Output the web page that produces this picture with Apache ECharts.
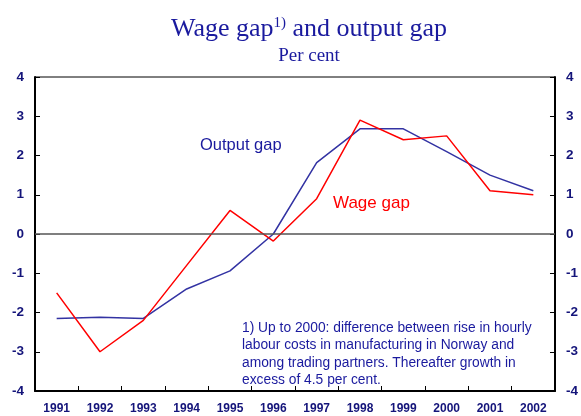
<!DOCTYPE html>
<html>
<head>
<meta charset="utf-8">
<script src="https://cdn.jsdelivr.net/npm/echarts@6/dist/echarts.min.js"></script>
<style>
  html, body { margin: 0; padding: 0; background: #fff; }
  #chart { width: 581px; height: 416px; }
</style>
</head>
<body>
<div id="chart"></div>
<script>
var years = ['1991', '1992', '1993', '1994', '1995', '1996', '1997', '1998', '1999', '2000', '2001', '2002'];
var wageGap = [-1.5, -3.0, -2.2, -0.8, 0.6, -0.18, 0.9, 2.9, 2.4, 2.5, 1.1, 1.0];
var outputGap = [-2.15, -2.12, -2.15, -1.4, -0.94, 0.0, 1.82, 2.68, 2.68, 2.1, 1.5, 1.1];
var yTicks = [-4, -3, -2, -1, 0, 1, 2, 3, 4];

var chartDom = document.getElementById('chart');
var myChart = echarts.init(chartDom);

var navy = '#14147a';

function valueAxis(pos) {
  return {
    type: 'value',
    position: pos,
    min: yTicks[0],
    max: yTicks[yTicks.length - 1],
    interval: 1,
    axisLine: { show: true, lineStyle: { color: '#000', width: 2 } },
    axisTick: { show: true, inside: true, length: 5, lineStyle: { color: '#000' } },
    axisLabel: {
      color: navy, fontFamily: 'Arial, Liberation Sans, sans-serif',
      fontWeight: 'bold', fontSize: 13.5, margin: 11
    },
    splitLine: { show: false }
  };
}

myChart.setOption({
  animation: false,
  title: {
    text: 'Wage gap{sup|1)} and output gap',
    subtext: 'Per cent',
    left: 304,
    textAlign: 'center',
    top: 11,
    itemGap: 5,
    textStyle: {
      color: '#1a1a9e', fontFamily: 'Liberation Serif, Times New Roman, serif',
      fontWeight: 'normal', fontSize: 26,
      rich: {
        sup: { color: '#1a1a9e', fontFamily: 'Liberation Serif, serif', fontSize: 15, verticalAlign: 'top', padding: [0, 0, 10, 0] }
      }
    },
    subtextStyle: {
      color: '#1a1a9e', fontFamily: 'Liberation Serif, Times New Roman, serif', fontSize: 19
    }
  },
  grid: { left: 35, right: 21, top: 77, bottom: 25, show: true, borderColor: '#000', borderWidth: 1 },
  xAxis: {
    type: 'category',
    data: years,
    boundaryGap: true,
    axisLine: { show: true, onZero: false, lineStyle: { color: '#000', width: 2 } },
    axisTick: { show: true, inside: true, length: 5, alignWithLabel: false, lineStyle: { color: '#000' } },
    axisLabel: {
      color: navy, fontFamily: 'Arial, Liberation Sans, sans-serif',
      fontWeight: 'bold', fontSize: 12, margin: 12, interval: 0
    }
  },
  yAxis: [valueAxis('left'), valueAxis('right')],
  series: [
    {
      name: 'Output gap',
      type: 'line',
      data: outputGap,
      symbol: 'none',
      lineStyle: { color: '#3333a3', width: 1.5 },
      markLine: {
        silent: true,
        symbol: 'none',
        label: { show: false },
        lineStyle: { color: '#555', width: 1.5, type: 'solid' },
        data: [{ yAxis: 0 }]
      }
    },
    {
      name: 'Wage gap',
      type: 'line',
      data: wageGap,
      symbol: 'none',
      lineStyle: { color: '#ff0000', width: 1.5 }
    }
  ],
  graphic: [
    {
      type: 'text', left: 200, top: 137,
      style: { text: 'Output gap', fill: '#1a1a9e', font: '16.5px Arial, Liberation Sans, sans-serif' }
    },
    {
      type: 'text', left: 333, top: 195,
      style: { text: 'Wage gap', fill: '#ff0000', font: '17px Arial, Liberation Sans, sans-serif' }
    },
    {
      type: 'text', left: 242, top: 319,
      style: {
        text: '1) Up to 2000: difference between rise in hourly\nlabour costs in manufacturing in Norway and\namong trading partners. Thereafter growth in\nexcess of 4.5 per cent.',
        fill: '#1a1a9e', font: '13.8px Arial, Liberation Sans, sans-serif', lineHeight: 17.5
      }
    }
  ]
});
</script>
</body>
</html>
